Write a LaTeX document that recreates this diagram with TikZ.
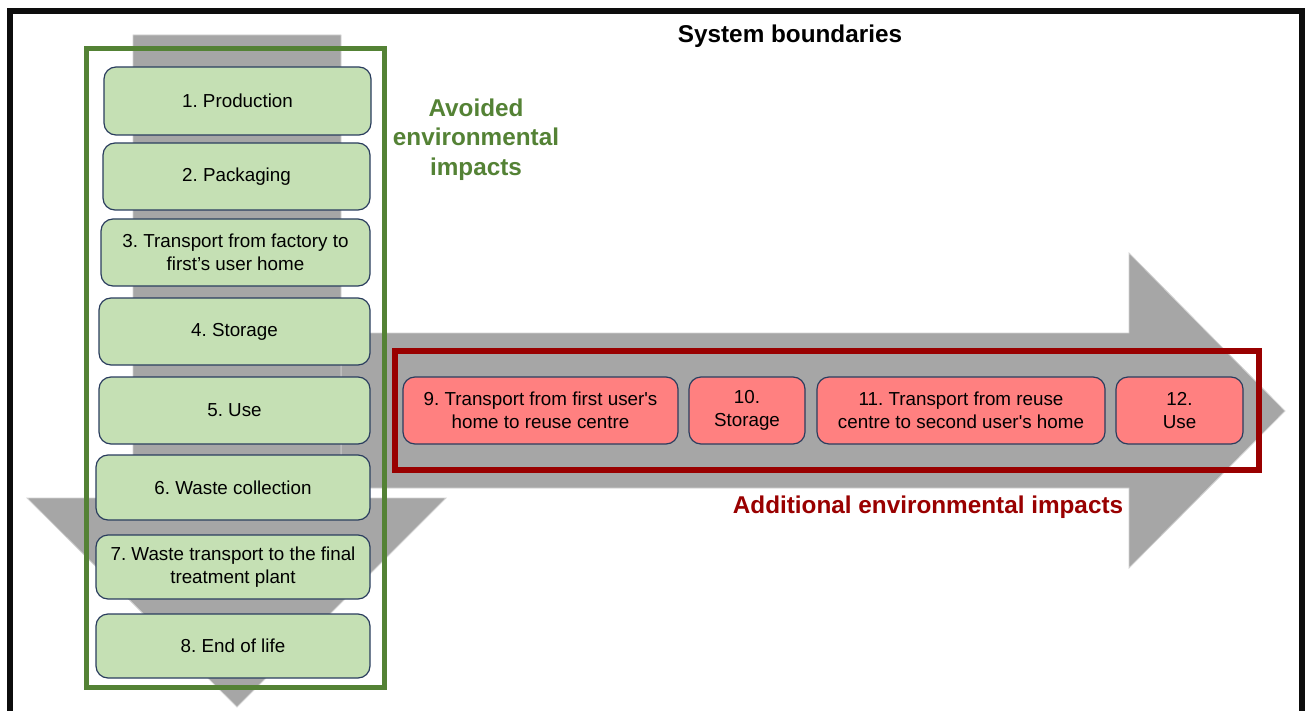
\documentclass[tikz,border=0pt]{standalone}
\usepackage{fontspec}
\setmainfont{Liberation Sans}
\usetikzlibrary{positioning}
\definecolor{boxgreen}{HTML}{C5E0B4}
\definecolor{framegreen}{HTML}{548235}
\definecolor{boxred}{HTML}{FF8080}
\definecolor{framered}{HTML}{990000}
\definecolor{arrowgray}{HTML}{A6A6A6}
\definecolor{boxedge}{HTML}{2A3D5E}

\tikzset{
  stagebox/.style={draw=boxedge, line width=1.2pt, rounded corners=12pt,
    align=center, inner sep=0pt, font=\fontsize{18.8}{23}\selectfont},
  greenbox/.style={stagebox, fill=boxgreen},
  redbox/.style={stagebox, fill=boxred, minimum height=67pt},
  bigarrow/.style={fill=arrowgray, draw=arrowgray!50, line width=0.8pt},
  heading/.style={font=\fontsize{24.3}{29.5}\selectfont\bfseries, align=center}
}

\begin{document}
\frenchspacing
\begin{tikzpicture}[x=1pt, y=-1pt]
    \useasboundingbox (0,0) rectangle (1305,711);

    % System boundary
    \draw[line width=6pt, black!95] (10,711) -- (10,11) -- (1302,11) -- (1302,711);
    \node (sysb) [heading] at (790,36) {System boundaries};

    % Gray arrows
    \draw[bigarrow] (341,333) -- (1129,333) -- (1129,253) -- (1285,411)
        -- (1129,568) -- (1129,488) -- (341,488) -- cycle;
    \draw[bigarrow] (133,35) -- (341,35) -- (341,498) -- (446,498)
        -- (237,707) -- (27,498) -- (133,498) -- cycle;

    % Frames
    \draw[line width=5pt, framegreen] (86,49) rectangle (384,687);
    \draw[line width=6pt, framered] (395,351) rectangle (1259,470);

    % Avoided (first life)
    \node (av1) [greenbox, minimum width=267pt, minimum height=68pt] at (237.5,101) {1. Production};
    \node (av2) [greenbox, minimum width=267pt, minimum height=67pt] at (236.5,176.5) {2. Packaging};
    \node (av3) [greenbox, minimum width=269pt, minimum height=67pt] at (235.5,252.5) {3. Transport from factory to\\first’s user home};
    \node (av4) [greenbox, minimum width=271pt, minimum height=67pt] at (234.5,331.5) {4. Storage};
    \node (av5) [greenbox, minimum width=271pt, minimum height=67pt] at (234.5,410.5) {5. Use};
    \node (av6) [greenbox, minimum width=274pt, minimum height=65pt] at (233,487.5) {6. Waste collection};
    \node (av7) [greenbox, minimum width=274pt, minimum height=64pt] at (233,567) {7. Waste transport to the final\\treatment plant};
    \node (av8) [greenbox, minimum width=274pt, minimum height=64pt] at (233,646) {8. End of life};

    \node (avtxt) [heading, text=framegreen] at (476,139.5) {Avoided\\environmental\\impacts};

    % Additional (second life)
    \node (ad9) [redbox, minimum width=275pt] at (540.5,410.5) {9. Transport from first user\textquotesingle s\\home to reuse centre};
    \node (ad10) [redbox, minimum width=116pt] at (747,410.5) {10.\\Storage};
    \node (ad11) [redbox, minimum width=288pt] at (961,410.5) {11. Transport from reuse\\centre to second user\textquotesingle s home};
    \node (ad12) [redbox, minimum width=127pt] at (1179.5,410.5) {12.\\Use};

    \node (adtxt) [heading, text=framered] at (928,507.5) {Additional environmental impacts};
\end{tikzpicture}
\end{document}
